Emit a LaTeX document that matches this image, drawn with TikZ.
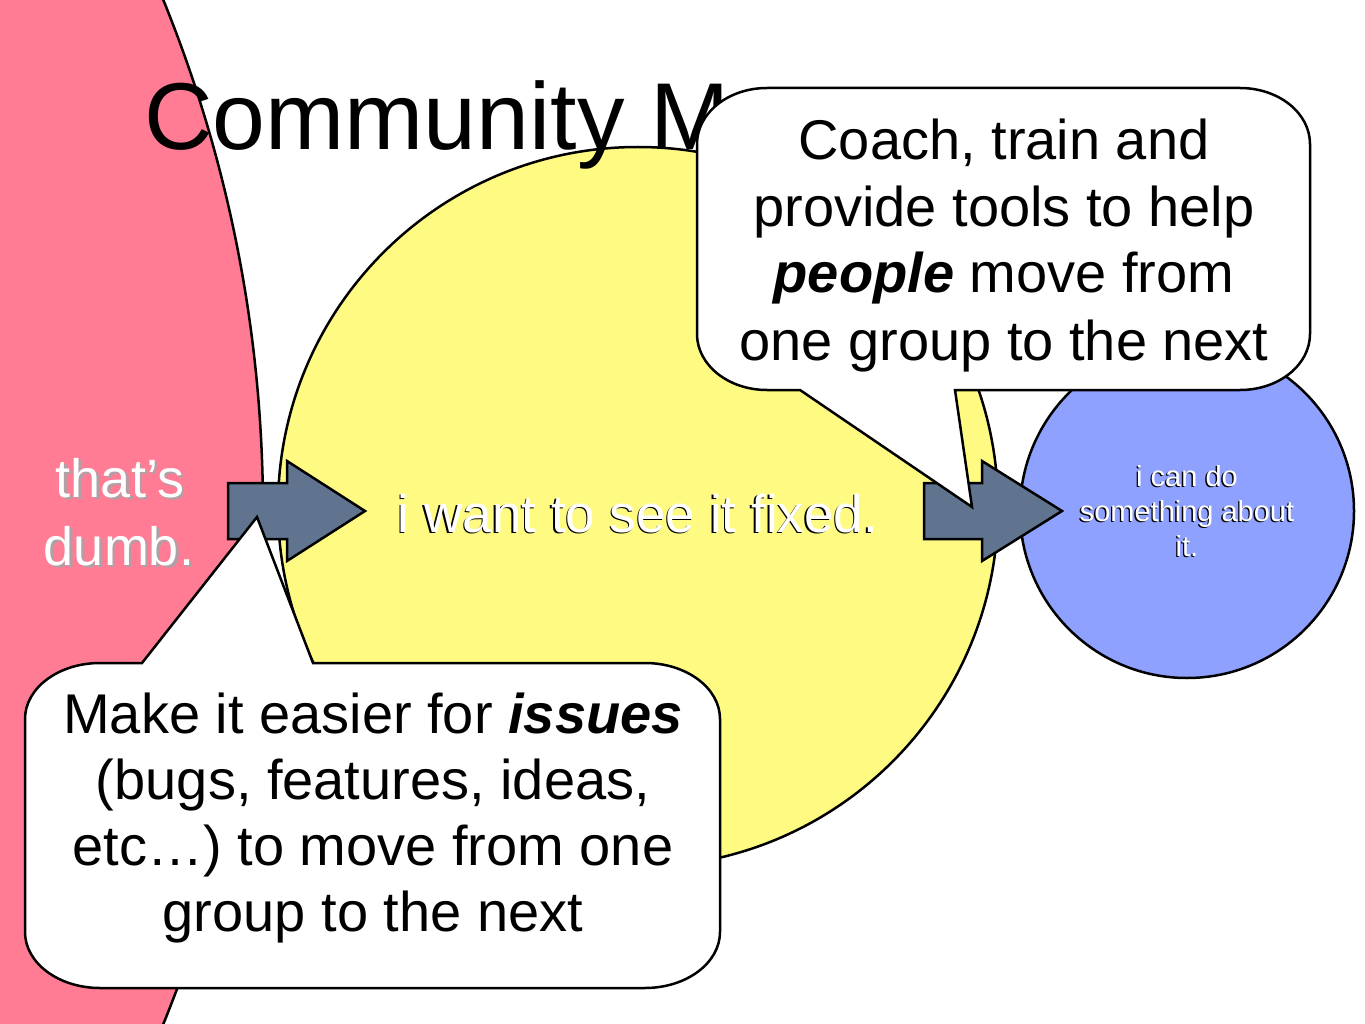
\documentclass[tikz,border=0pt]{standalone}
\usepackage{fontspec}
\setmainfont{Liberation Sans}
\definecolor{pinkfill}{RGB}{255,124,148}
\definecolor{yellowfill}{RGB}{255,250,130}
\definecolor{bluefill}{RGB}{142,161,255}
\definecolor{arrowfill}{RGB}{96,116,143}
\definecolor{shadowgray}{RGB}{175,160,165}
\newcommand{\wtext}[5]{%
  \node[wtxt,#4,font=\fontsize{#3}{#3}\selectfont] (#1-s) at #2 {#5};
  \node[wtxt,text=white,font=\fontsize{#3}{#3}\selectfont] (#1) at #2 {#5};}
\begin{document}
\begin{tikzpicture}[x=1pt,y=-1pt,
  outline/.style={draw=black,line width=2.5pt,line join=miter},
  blob/.style={outline,circle,inner sep=0pt,outer sep=0pt},
  blockarrow/.style={outline,fill=arrowfill},
  callout/.style={outline,fill=white},
  wtxt/.style={inner sep=0pt,anchor=base},
  darkshadow/.style={text=black,xshift=-1.4pt,yshift=-1.4pt},
  lightshadow/.style={text=shadowgray,xshift=2.5pt,yshift=-2.5pt},
  ctxt/.style={inner sep=0pt,anchor=base,text=black,font=\fontsize{56}{67}\selectfont}]
\useasboundingbox (0,0) rectangle (1365,1024);
\fill[white] (0,0) rectangle (1365,1024);
% pink group (large circle, mostly off the page)
\begin{scope}
  \clip (0,0) rectangle (1365,1024);
  \draw[outline,fill=pinkfill] (-1097,512) circle[radius=1360pt];
\end{scope}
% yellow and blue groups
\node[blob,fill=yellowfill,minimum size=720pt] (yellow) at (638,507) {};
\node[blob,fill=bluefill,minimum size=334pt] (blue) at (1187,511) {};
% title (partly hidden behind the callout)
\node[inner sep=0pt,anchor=base west,font=\fontsize{95}{114}\selectfont] (title) at (144,150) {Community Management};
% group labels
\wtext{dumb1}{(120,497)}{54}{lightshadow}{that’s}
\wtext{dumb2}{(119,565)}{54}{lightshadow}{dumb.}
\wtext{fixed}{(638,532)}{53}{darkshadow}{i want to see it fixed.}
\wtext{can1}{(1187,486)}{29}{darkshadow}{i can do}
\wtext{can2}{(1187,521)}{29}{darkshadow}{something about}
\wtext{can3}{(1187,556)}{29}{darkshadow}{it.}
% block arrows
\draw[blockarrow] (228,483) -- (287,483) -- (287,461) -- (365,511) -- (287,561) -- (287,539) -- (228,539) -- cycle;
\draw[blockarrow] (924,483) -- (982,483) -- (982,461) -- (1062,511) -- (982,561) -- (982,539) -- (924,539) -- cycle;
% top-right callout
\draw[callout] (767,88) -- (1240,88) .. controls (1278.7,88) and (1310,113) .. (1310,144)
  -- (1310,334) .. controls (1310,365) and (1278.7,390) .. (1240,390)
  -- (955,390) -- (972,507) -- (800,390) -- (767,390)
  .. controls (728.3,390) and (697,365) .. (697,334)
  -- (697,144) .. controls (697,113) and (728.3,88) .. (767,88) -- cycle;
\node[ctxt] (t1) at (1004,160) {Coach, train and};
\node[ctxt] (t2) at (1004,227) {provide tools to help};
\node[ctxt] (t3) at (1004,293) {\textbf{\textit{people}} move from};
\node[ctxt] (t4) at (1004,360) {one group to the next};
% bottom-left callout
\draw[callout] (100,663) -- (142,663) -- (257,517) -- (313,663) -- (645,663)
  .. controls (686.4,663) and (720,688) .. (720,719)
  -- (720,932) .. controls (720,963) and (686.4,988) .. (645,988)
  -- (100,988) .. controls (58.6,988) and (25,963) .. (25,932)
  -- (25,719) .. controls (25,688) and (58.6,663) .. (100,663) -- cycle;
\node[ctxt] (b1) at (373,733) {Make it easier for \textbf{\textit{issues}}};
\node[ctxt] (b2) at (373,799) {(bugs, features, ideas,};
\node[ctxt] (b3) at (373,865) {etc…) to move from one};
\node[ctxt] (b4) at (373,931) {group to the next};
\end{tikzpicture}
\end{document}
